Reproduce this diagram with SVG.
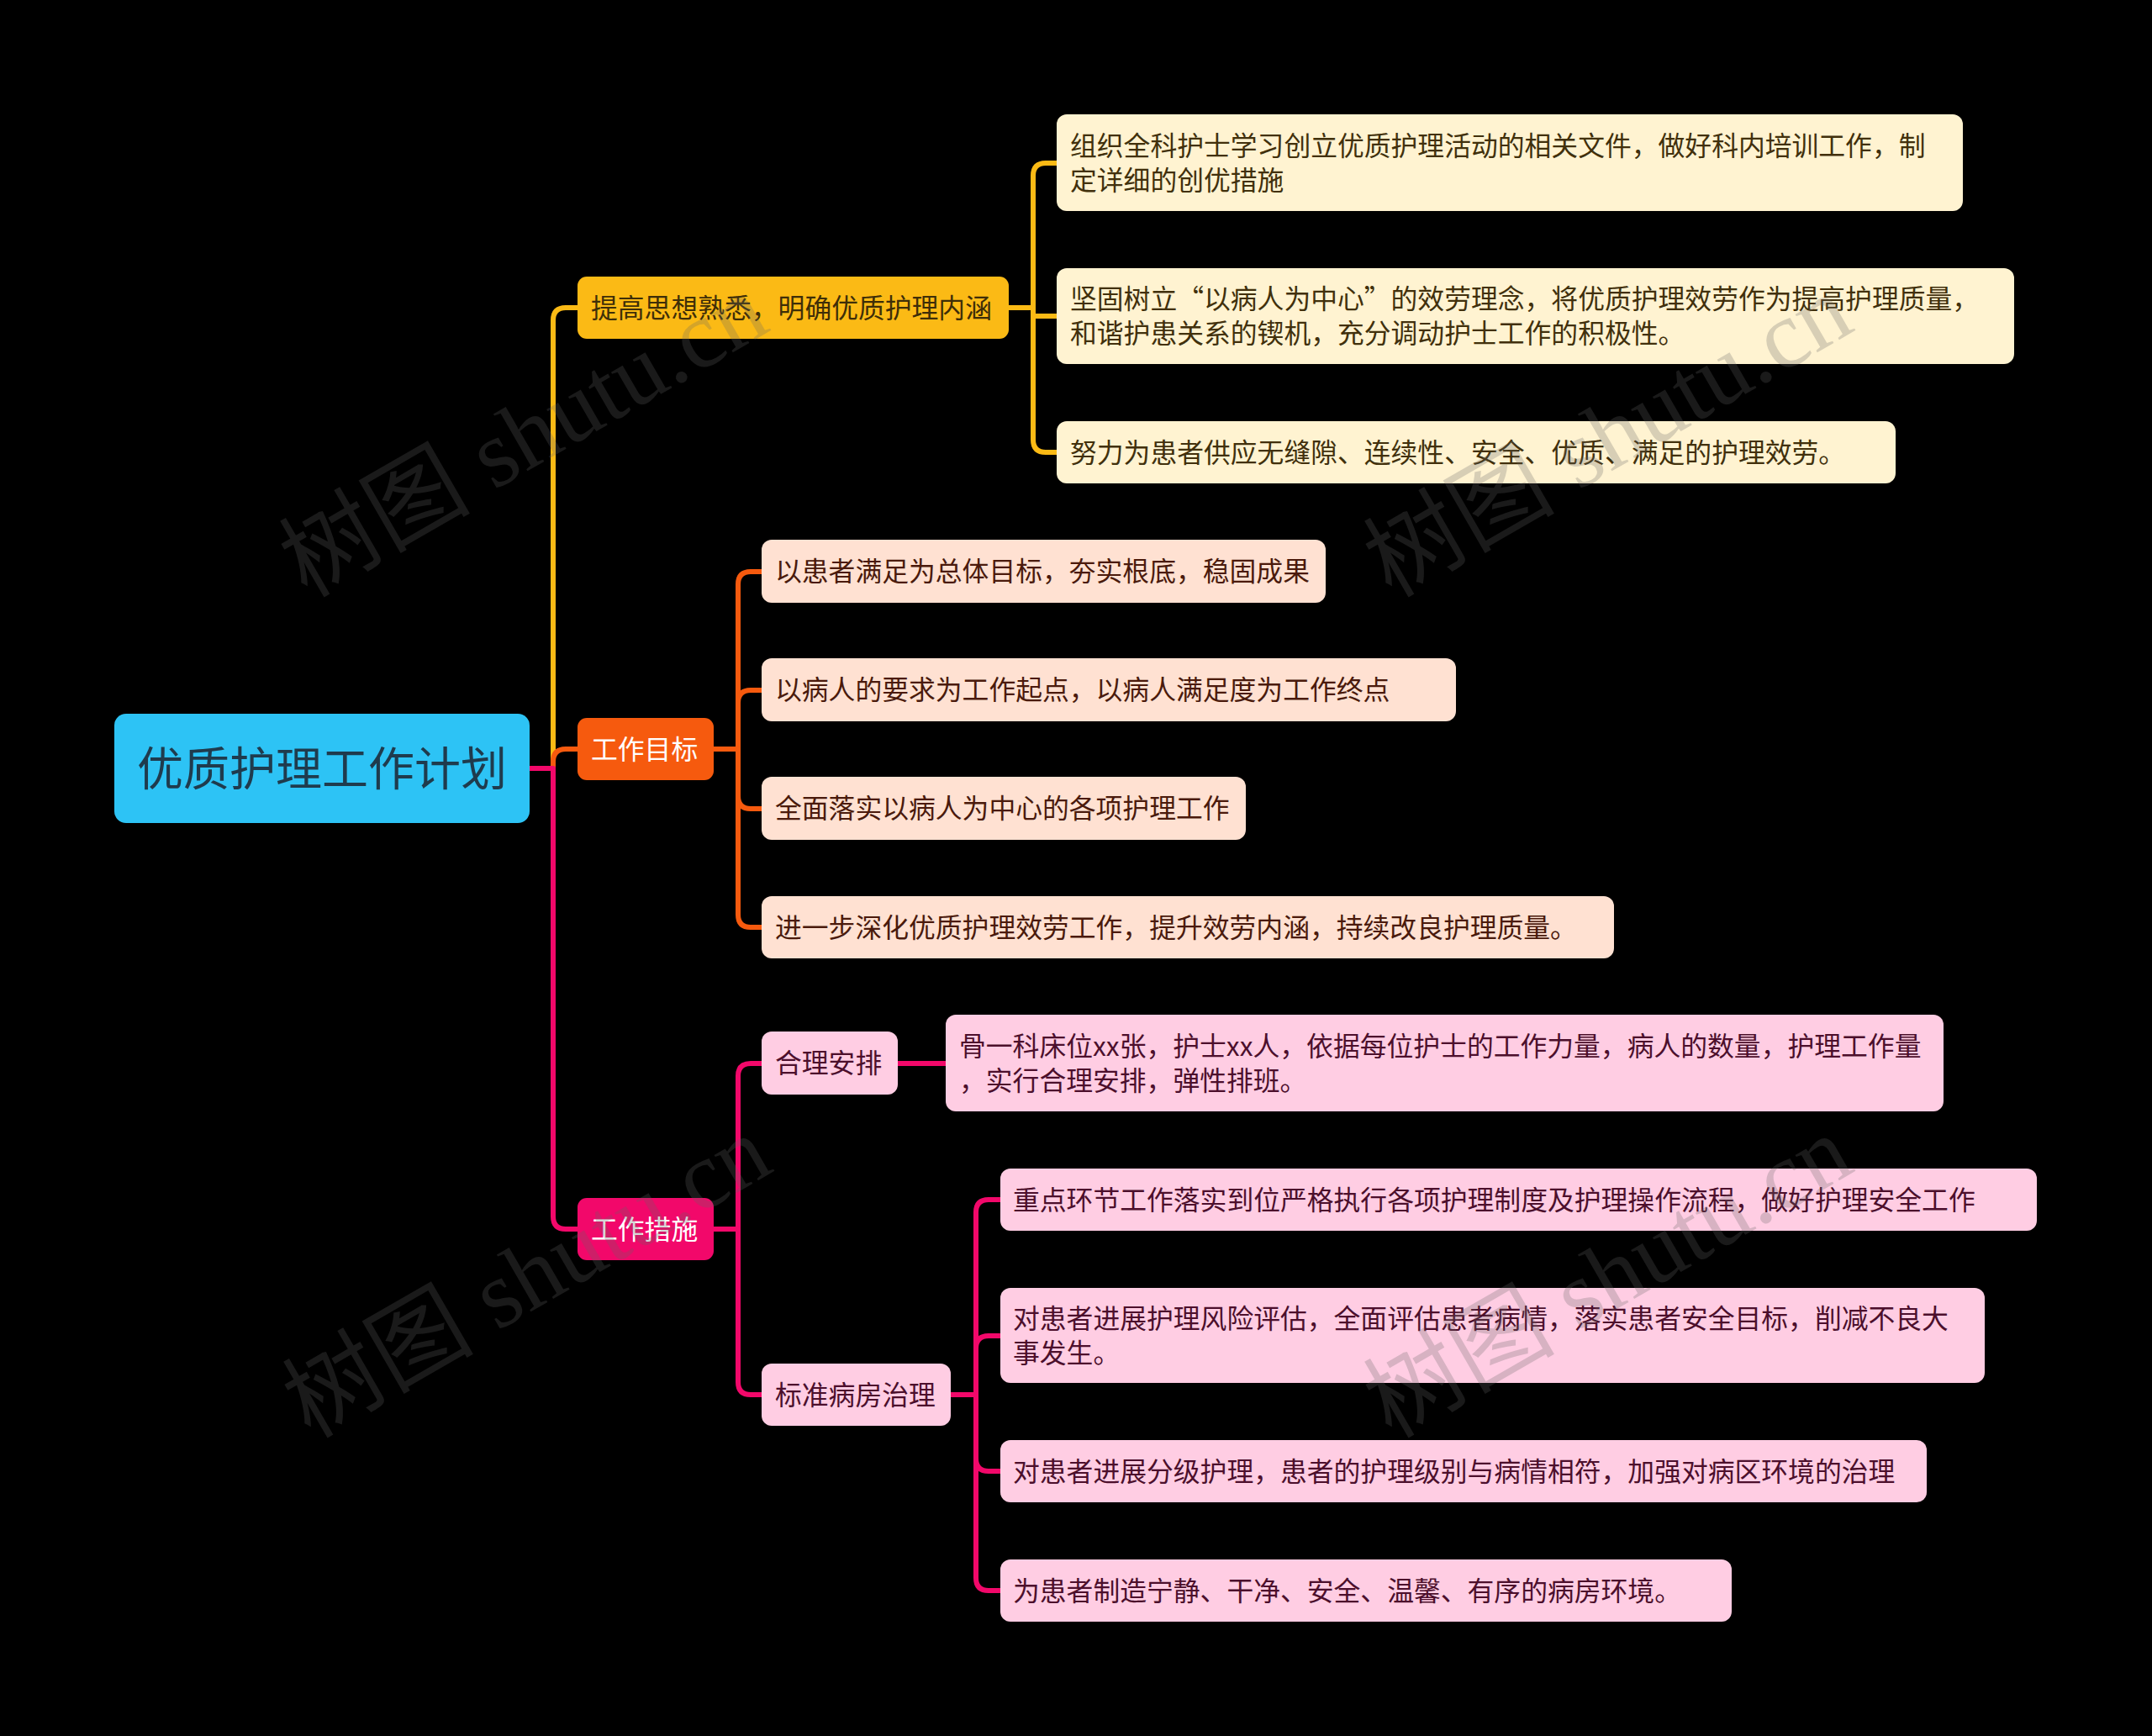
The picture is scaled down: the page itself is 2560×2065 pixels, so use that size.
<svg xmlns="http://www.w3.org/2000/svg" width="2560" height="2065" viewBox="0 0 2560 2065">
<style>
text{font-family:"Noto Sans CJK SC","Noto Sans",sans-serif;font-size:31.8px}
.root{font-size:55px;fill:#1F3B4D}
.ty{fill:#3E2E08}
.tw{fill:#FFFFFF}
.cy{fill:#FFF3D1}
.co{fill:#FFE1D2}
.cp{fill:#FFCDE3}
.txy{fill:#41300C}
.txo{fill:#4A1A0C}
.txp{fill:#4C0F2C}
.ln{fill:none;stroke-width:6;stroke-linecap:round;stroke-linejoin:round}
.ly{stroke:#FBBA15}
.lo{stroke:#F65A0E}
.lp{stroke:#F2086A}
.wm{font-family:"Liberation Serif","Noto Sans CJK SC",serif;font-size:114px;fill:#646464;fill-opacity:0.26}
</style>
<rect width="2560" height="2065" fill="#000000"/>
<g id="connectors">
<path class="ln ly" d="M630,914 H658 V381 Q658,366 673,366 H687"/>
<path class="ln lo" d="M658,914 V906 Q658,891 673,891 H687"/>
<path class="ln lp" d="M630,914 H658 V1447 Q658,1462 673,1462 H687"/>
<path class="ln ly" d="M1200,366 H1229 V209 Q1229,194 1244,194 H1257"/>
<path class="ln ly" d="M1200,366 H1229 V376 H1257"/>
<path class="ln ly" d="M1200,366 H1229 V523 Q1229,538 1244,538 H1257"/>
<path class="ln lo" d="M849,891 H878 V695 Q878,680 893,680 H906"/>
<path class="ln lo" d="M849,891 H878 V836 Q878,821 893,821 H906"/>
<path class="ln lo" d="M849,891 H878 V947 Q878,962 893,962 H906"/>
<path class="ln lo" d="M849,891 H878 V1088 Q878,1103 893,1103 H906"/>
<path class="ln lp" d="M849,1462 H878 V1280 Q878,1265 893,1265 H906"/>
<path class="ln lp" d="M849,1462 H878 V1644 Q878,1659 893,1659 H906"/>
<path class="ln lp" d="M1068,1265 H1125"/>
<path class="ln lp" d="M1131,1659 H1161 V1442 Q1161,1427 1176,1427 H1190"/>
<path class="ln lp" d="M1131,1659 H1161 V1604 Q1161,1589 1176,1589 H1190"/>
<path class="ln lp" d="M1131,1659 H1161 V1735 Q1161,1750 1176,1750 H1190"/>
<path class="ln lp" d="M1131,1659 H1161 V1877 Q1161,1892 1176,1892 H1190"/>
</g>
<g id="root">
<rect x="136" y="849" width="494" height="130" rx="14" fill="#2DC3F5"/>
<text class="root" x="383" y="934" text-anchor="middle">优质护理工作计划</text>
</g>
<g id="n-yellow">
<rect x="687" y="329" width="513" height="74" rx="11" fill="#FBBA15"/>
<text class="ty" x="703" y="378">提高思想熟悉，明确优质护理内涵</text>
</g>
<g id="n-orange">
<rect x="687" y="854" width="162" height="74" rx="11" fill="#F65A0E"/>
<text class="tw" x="703" y="903">工作目标</text>
</g>
<g id="n-pink">
<rect x="687" y="1425" width="162" height="74" rx="11" fill="#F2086A"/>
<text class="tw" x="703" y="1474">工作措施</text>
</g>
<g id="y1">
<rect class="cy" x="1257" y="136" width="1078" height="115" rx="12"/>
<text class="txy" x="1273" y="185">组织全科护士学习创立优质护理活动的相关文件，做好科内培训工作，制</text>
<text class="txy" x="1273" y="226">定详细的创优措施</text>
</g>
<g id="y2">
<rect class="cy" x="1257" y="319" width="1139" height="114" rx="12"/>
<text class="txy" x="1273" y="367">坚固树立“以病人为中心”的效劳理念，将优质护理效劳作为提高护理质量，</text>
<text class="txy" x="1273" y="408">和谐护患关系的锲机，充分调动护士工作的积极性。</text>
</g>
<g id="y3">
<rect class="cy" x="1257" y="501" width="998" height="74" rx="12"/>
<text class="txy" x="1273" y="550">努力为患者供应无缝隙、连续性、安全、优质、满足的护理效劳。</text>
</g>
<g id="o1">
<rect class="co" x="906" y="642" width="671" height="75" rx="12"/>
<text class="txo" x="922" y="691">以患者满足为总体目标，夯实根底，稳固成果</text>
</g>
<g id="o2">
<rect class="co" x="906" y="783" width="826" height="75" rx="12"/>
<text class="txo" x="922" y="832">以病人的要求为工作起点，以病人满足度为工作终点</text>
</g>
<g id="o3">
<rect class="co" x="906" y="924" width="576" height="75" rx="12"/>
<text class="txo" x="922" y="973">全面落实以病人为中心的各项护理工作</text>
</g>
<g id="o4">
<rect class="co" x="906" y="1066" width="1014" height="74" rx="12"/>
<text class="txo" x="922" y="1115">进一步深化优质护理效劳工作，提升效劳内涵，持续改良护理质量。</text>
</g>
<g id="p1">
<rect class="cp" x="906" y="1227" width="162" height="75" rx="12"/>
<text class="txp" x="922" y="1276">合理安排</text>
</g>
<g id="p1c">
<rect class="cp" x="1125" y="1207" width="1187" height="115" rx="12"/>
<text class="txp" x="1141" y="1256">骨一科床位xx张，护士xx人，依据每位护士的工作力量，病人的数量，护理工作量</text>
<text class="txp" x="1141" y="1297">，实行合理安排，弹性排班。</text>
</g>
<g id="p2">
<rect class="cp" x="906" y="1622" width="225" height="74" rx="12"/>
<text class="txp" x="922" y="1671">标准病房治理</text>
</g>
<g id="s1">
<rect class="cp" x="1190" y="1390" width="1233" height="74" rx="12"/>
<text class="txp" x="1205" y="1439">重点环节工作落实到位严格执行各项护理制度及护理操作流程，做好护理安全工作</text>
</g>
<g id="s2">
<rect class="cp" x="1190" y="1532" width="1171" height="113" rx="12"/>
<text class="txp" x="1205" y="1580">对患者进展护理风险评估，全面评估患者病情，落实患者安全目标，削减不良大</text>
<text class="txp" x="1205" y="1621">事发生。</text>
</g>
<g id="s3">
<rect class="cp" x="1190" y="1713" width="1102" height="74" rx="12"/>
<text class="txp" x="1205" y="1762">对患者进展分级护理，患者的护理级别与病情相符，加强对病区环境的治理</text>
</g>
<g id="s4">
<rect class="cp" x="1190" y="1855" width="870" height="74" rx="12"/>
<text class="txp" x="1205" y="1904">为患者制造宁静、干净、安全、温馨、有序的病房环境。</text>
</g>
<g id="watermark">
<text class="wm" text-anchor="middle" transform="translate(642,552) rotate(-30)">树图 shutu.cn</text>
<text class="wm" text-anchor="middle" transform="translate(1932,552) rotate(-30)">树图 shutu.cn</text>
<text class="wm" text-anchor="middle" transform="translate(646,1552) rotate(-30)">树图 shutu.cn</text>
<text class="wm" text-anchor="middle" transform="translate(1932,1552) rotate(-30)">树图 shutu.cn</text>
</g>
</svg>
